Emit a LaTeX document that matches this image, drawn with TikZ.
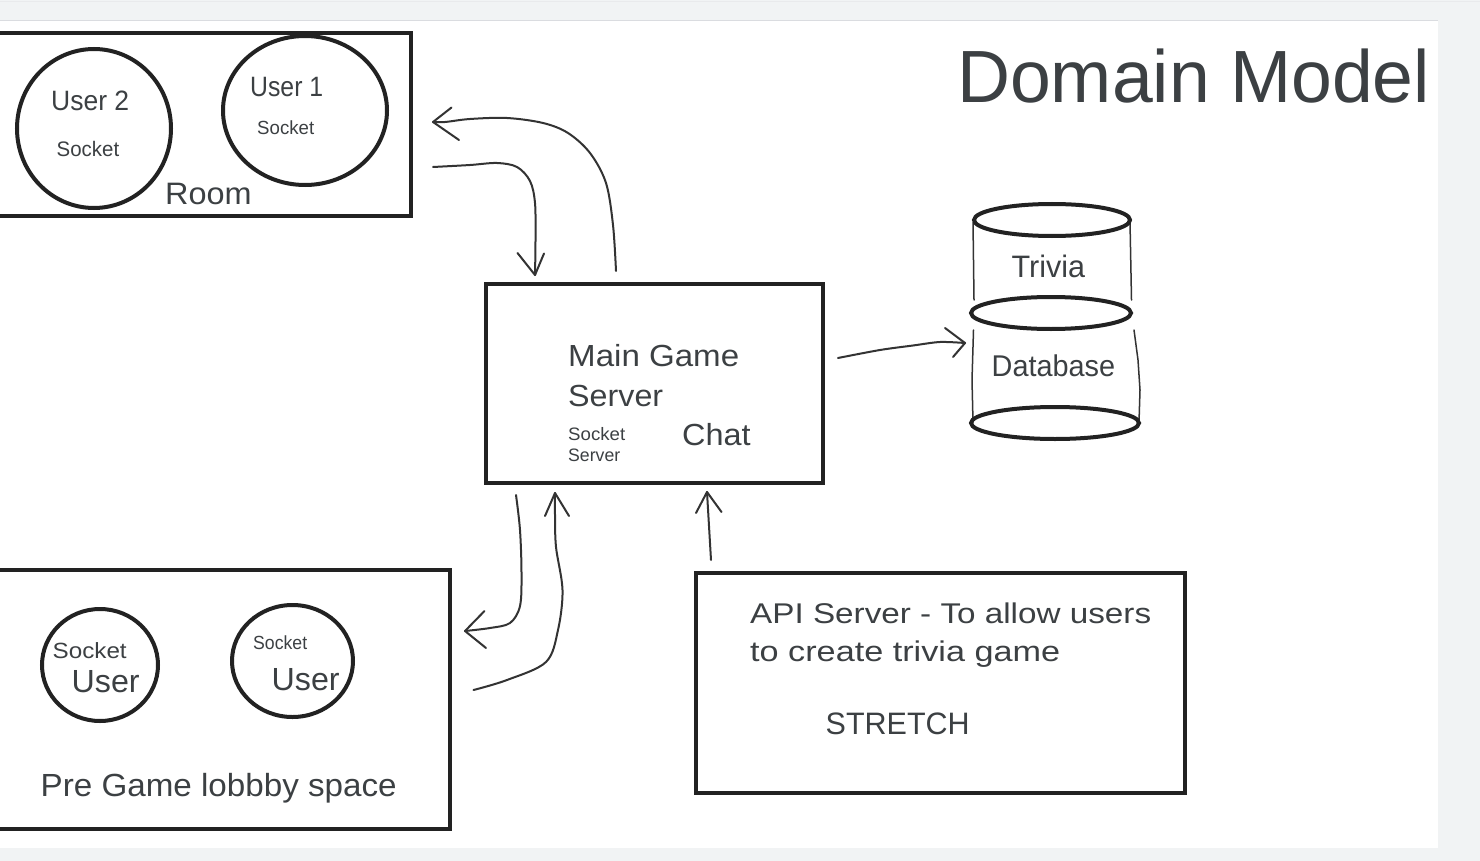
\documentclass[tikz,border=0pt]{standalone}
\usepackage{fontspec}
\setmainfont{Liberation Sans}
\usepackage{graphicx}
\usetikzlibrary{shapes.geometric}
\definecolor{bggray}{HTML}{F1F3F4}
\definecolor{rulegray}{HTML}{DADCE0}
\definecolor{ink}{HTML}{3C4043}
\definecolor{pen}{HTML}{222222}
\definecolor{thinpen}{HTML}{333333}
\newcommand\fitw[3]{\resizebox{#1}{\height}{\fontsize{#2}{#2}\selectfont #3}}
\begin{document}
\begin{tikzpicture}[x=1pt,y=-1pt,
  box/.style={draw=pen, line width=4pt, inner sep=0pt},
  userc/.style={ellipse, draw=pen, line width=4pt, inner sep=0pt},
  txt/.style={text=ink, inner sep=0pt, anchor=base west},
  hand/.style={draw=thinpen, line width=2pt, line cap=round, line join=round},
  dbline/.style={draw=pen, line width=4pt},
  dbside/.style={draw=thinpen, line width=1.5pt, line cap=round}]
\useasboundingbox (0,0) rectangle (1480,861);
\clip (0,0) rectangle (1480,861);
% page background
\fill[bggray] (0,0) rectangle (1480,861);
\fill[white] (0,21) rectangle (1438,848);
\draw[rulegray, line width=1.5pt] (0,20.5) -- (1438,20.5);
\draw[rulegray!60, line width=1pt] (0,1.5) -- (1480,1.5);

% title
\node[txt] (title) at (957,103) {\fitw{473pt}{74}{Domain Model}};

% Room
\node[box, minimum width=421pt, minimum height=183pt] (room) at (200.5,124.5) {};
\node[userc, minimum width=154pt, minimum height=159pt] (user2) at (94,128.5) {};
\node[userc, minimum width=164pt, minimum height=149pt] (user1) at (305,110.5) {};
\node[txt] (u2t) at (51,111) {\fitw{78pt}{28}{User 2}};
\node[txt] (u2s) at (56.5,156.5) {\fitw{62.5pt}{21}{Socket}};
\node[txt] (u1t) at (250,96.5) {\fitw{73pt}{28}{User 1}};
\node[txt] (u1s) at (257,135) {\fitw{57pt}{19}{Socket}};
\node[txt] (roomt) at (165,205) {\fitw{86.5pt}{31}{Room}};

% Main game server
\node[box, minimum width=337pt, minimum height=199pt] (main) at (654.5,383.5) {};
\node[txt] (m1) at (568,366.5) {\fitw{171pt}{30.5}{Main Game}};
\node[txt] (m2) at (568,406.5) {\fitw{95pt}{30.5}{Server}};
\node[txt] (m3) at (568,440) {\fitw{57pt}{18}{Socket}};
\node[txt] (m4) at (568,461.5) {\fitw{52pt}{18}{Server}};
\node[txt] (chat) at (682,445) {\fitw{68.5pt}{30.5}{Chat}};

% Database cylinder
\coordinate (db) at (1053,320);
\draw[dbside] (973,222) -- (974,300);
\draw[dbside] (973.5,330) -- (972,380) -- (973,422);
\draw[dbside] (1130,222) -- (1131.5,300);
\draw[dbside] (1134,330) -- (1138,360) -- (1140,390) -- (1139,422);
\draw[dbline] (1052,220) ellipse [x radius=78pt, y radius=16pt];
\draw[dbline] (1051,313) ellipse [x radius=80pt, y radius=16pt];
\draw[dbline] (1055,423) ellipse [x radius=84pt, y radius=16pt];
\node[txt] (trivia) at (1011.5,277.5) {\fitw{73.5pt}{31}{Trivia}};
\node[txt] (dbt) at (991.5,376.5) {\fitw{123.5pt}{30}{Database}};

% Lobby
\node[box, minimum width=460pt, minimum height=259pt] (lobby) at (220,699.5) {};
\node[userc, minimum width=116pt, minimum height=112pt] (lu1) at (100,665) {};
\node[userc, minimum width=121pt, minimum height=112pt] (lu2) at (292.5,661) {};
\node[txt] (l1s) at (52.5,658.5) {\fitw{74pt}{22}{Socket}};
\node[txt] (l1u) at (71.5,692.5) {\fitw{68pt}{32}{User}};
\node[txt] (l2s) at (253,649.5) {\fitw{54pt}{19}{Socket}};
\node[txt] (l2u) at (271.5,690) {\fitw{68pt}{32}{User}};
\node[txt] (lobt) at (40.5,796) {\fitw{356pt}{32}{Pre Game lobbby space}};

% API server
\node[box, minimum width=489pt, minimum height=220pt] (api) at (940.5,683) {};
\node[txt] (a1) at (750,623.5) {\fitw{401pt}{28.5}{API Server - To allow users}};
\node[txt] (a2) at (750,661) {\fitw{310pt}{28.5}{to create trivia game}};
\node[txt] (a3) at (825.5,734) {\fitw{144pt}{31}{STRETCH}};

% Arrow: main -> room (up and left)
\coordinate (aS) at (616,271);
\coordinate (aT) at (433,122);
\draw[hand] plot[smooth, tension=0.55] coordinates {(aS) (613,225) (606,183) (590,153) (568,133) (543,123) (507,118) (470,119) (445,122) (aT)};
\draw[hand] (451.5,107.5) -- (aT) -- (459,140);

% Arrow: room -> main (right and down)
\coordinate (bS) at (433,167);
\coordinate (bT) at (535,275);
\draw[hand] plot[smooth, tension=0.55] coordinates {(bS) (470,165) (497,163) (517,167) (530,181) (535,203) (535.5,240) (bT)};
\draw[hand] (517.5,253) -- (bT) -- (544,253.5);

% Arrow: main -> database
\coordinate (cS) at (838,358);
\coordinate (cT) at (965,343);
\draw[hand] plot[smooth, tension=0.5] coordinates {(cS) (880,350) (913,345.5) (940,342) (cT)};
\draw[hand] (945,328) -- (cT) -- (953,357);

% Arrow: main -> lobby (down and left)
\coordinate (dS) at (516,495);
\coordinate (dT) at (465,631);
\draw[hand] plot[smooth, tension=0.55] coordinates {(dS) (520,530) (521.5,573) (520,606) (510,623) (490,628) (dT)};
\draw[hand] (484.5,611) -- (dT) -- (486,648);

% Arrow: lobby -> main (right and up)
\coordinate (eS) at (473.5,690);
\coordinate (eT) at (555,493);
\draw[hand] plot[smooth, tension=0.55] coordinates {(eS) (507,680) (546,662) (558,630) (562.5,590) (556,547) (555,515) (eT)};
\draw[hand] (545,516) -- (eT) -- (569,516);

% Arrow: API -> main
\coordinate (fS) at (711,560);
\coordinate (fT) at (707,492);
\draw[hand] (fS) -- (fT);
\draw[hand] (696,513) -- (fT) -- (721.5,512);
\end{tikzpicture}
\end{document}
